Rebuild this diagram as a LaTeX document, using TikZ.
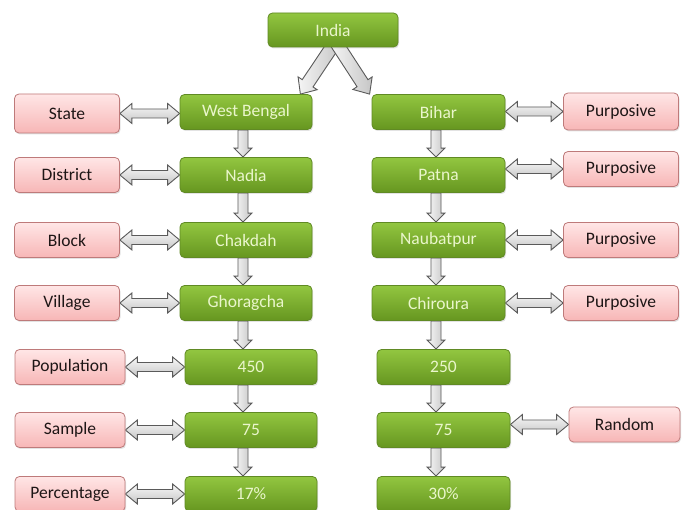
\documentclass[tikz,border=0pt]{standalone}
\usepackage{fontspec}
\setmainfont{Carlito}
\usetikzlibrary{calc,shadows,backgrounds}
\definecolor{gtop}{RGB}{146,198,64}
\definecolor{gbot}{RGB}{102,150,32}
\definecolor{gline}{RGB}{96,138,36}
\definecolor{gtext}{RGB}{234,246,204}
\definecolor{ptop}{RGB}{255,230,230}
\definecolor{pbot}{RGB}{247,182,182}
\definecolor{pline}{RGB}{190,122,122}
\definecolor{ptext}{RGB}{30,22,22}
\definecolor{aline}{RGB}{90,90,90}
\tikzset{
 boxbase/.style={line width=0.8pt, rounded corners=4.5pt, inner sep=0pt,
   font=\fontsize{17.5}{19}\selectfont,
   drop shadow={opacity=0.22, shadow xshift=1pt, shadow yshift=-1.5pt}},
 gbox/.style={boxbase, draw=gline, top color=gtop, bottom color=gbot, text=gtext,
   minimum width=132pt, minimum height=35pt},
 pbox/.style={boxbase, draw=pline, top color=ptop, bottom color=pbot, text=ptext,
   minimum width=105pt, minimum height=35pt},
 varrow/.style={draw=aline, line width=0.9pt, left color=gray!5, right color=gray!45, line join=miter},
 harrow/.style={draw=aline, line width=0.9pt, top color=gray!5, bottom color=gray!45, line join=miter},
 darrow/.style={draw=aline, line width=0.9pt, left color=gray!8, right color=gray!45, line join=miter},
}
% single block arrow: style, start, end, half shaft, half head, head length
\newcommand\fatone[6]{%
  \path (#2) coordinate (faA) (#3) coordinate (faB);
  \path ($(faB)!#6!(faA)$) coordinate (faH);
  \draw[#1] ($(faA)!#4!90:(faB)$) -- ($(faH)!#4!90:(faB)$) -- ($(faH)!#5!90:(faB)$)
    -- (faB) -- ($(faH)!#5!-90:(faB)$) -- ($(faH)!#4!-90:(faB)$)
    -- ($(faA)!#4!-90:(faB)$) -- cycle;}
% double block arrow
\newcommand\fattwo[6]{%
  \path (#2) coordinate (faA) (#3) coordinate (faB);
  \path ($(faB)!#6!(faA)$) coordinate (faH) ($(faA)!#6!(faB)$) coordinate (faG);
  \draw[#1] (faA) -- ($(faG)!#5!90:(faB)$) -- ($(faG)!#4!90:(faB)$)
    -- ($(faH)!#4!90:(faB)$) -- ($(faH)!#5!90:(faB)$) -- (faB)
    -- ($(faH)!#5!-90:(faB)$) -- ($(faH)!#4!-90:(faB)$)
    -- ($(faG)!#4!-90:(faB)$) -- ($(faG)!#5!-90:(faB)$) -- cycle;}
\newcommand\vdown[2]{\fatone{varrow}{#1}{#2}{5pt}{9pt}{9pt}}
\newcommand\hboth[2]{\fattwo{harrow}{#1}{#2}{4.5pt}{10pt}{12pt}}
\begin{document}
\begin{tikzpicture}[x=1pt,y=-1pt]
\useasboundingbox (0,0) rectangle (683,510);
% green column left
\node[gbox] (india) at (333,30) [minimum width=130pt, minimum height=34pt] {India};
\node[gbox] (wb) at (246,112) {West Bengal};
\node[gbox] (nadia) at (246,175) {Nadia};
\node[gbox] (chakdah) at (246,240) {Chakdah};
\node[gbox] (ghor) at (246,303) {Ghoragcha};
\node[gbox] (lpop) at (251,367) {450};
\node[gbox] (lsam) at (251,430) {75};
\node[gbox] (lper) at (251,494) {17\%};
% green column right
\node[gbox] (bihar) at (438.5,112) [minimum width=133pt] {Bihar};
\node[gbox] (patna) at (438.5,175) [minimum width=133pt] {Patna};
\node[gbox] (naub) at (438.5,240) [minimum width=133pt] {Naubatpur};
\node[gbox] (chir) at (438.5,303) [minimum width=133pt] {Chiroura};
\node[gbox] (rpop) at (443.5,367) [minimum width=133pt] {250};
\node[gbox] (rsam) at (443.5,430) [minimum width=133pt] {75};
\node[gbox] (rper) at (443.5,494) [minimum width=133pt] {30\%};
% pink left
\node[pbox] (state) at (67,113.5) [minimum height=39pt] {State};
\node[pbox] (district) at (67,175) {District};
\node[pbox] (block) at (67,240) {Block};
\node[pbox] (village) at (67,303) {Village};
\node[pbox] (population) at (70,367) [minimum width=110pt] {Population};
\node[pbox] (sample) at (70,430) [minimum width=110pt] {Sample};
\node[pbox] (percentage) at (70,494) [minimum width=110pt] {Percentage};
% pink right
\node[pbox] (p1) at (621,111.5) [minimum width=115pt, minimum height=37pt] {Purposive};
\node[pbox] (p2) at (621,169) [minimum width=115pt] {Purposive};
\node[pbox] (p3) at (621,240) [minimum width=115pt] {Purposive};
\node[pbox] (p4) at (621,303) [minimum width=115pt] {Purposive};
\node[pbox] (random) at (624.5,424.5) [minimum width=111pt] {Random};
\coordinate (lx) at (243,0);
\coordinate (rx) at (436,0);
\begin{scope}[on background layer]
\fill[white] (0,0) rectangle (683,510);
% from India
\fatone{darrow}{[xshift=2pt,yshift=5pt]india.south}{[xshift=-12pt]wb.north east}{6.5pt}{11.5pt}{13pt}
\fatone{darrow}{[xshift=3pt,yshift=5pt]india.south}{[xshift=-2pt]bihar.north west}{6.5pt}{11.5pt}{13pt}
% vertical left
\vdown{wb.south -| lx}{nadia.north -| lx}
\vdown{nadia.south -| lx}{chakdah.north -| lx}
\vdown{chakdah.south -| lx}{ghor.north -| lx}
\vdown{ghor.south -| lx}{lpop.north -| lx}
\vdown{lpop.south -| lx}{lsam.north -| lx}
\vdown{lsam.south -| lx}{lper.north -| lx}
% vertical right
\vdown{bihar.south -| rx}{patna.north -| rx}
\vdown{patna.south -| rx}{naub.north -| rx}
\vdown{naub.south -| rx}{chir.north -| rx}
\vdown{chir.south -| rx}{rpop.north -| rx}
\vdown{rpop.south -| rx}{rsam.north -| rx}
\vdown{rsam.south -| rx}{rper.north -| rx}
% horizontal left
\hboth{state.east}{state.east -| wb.west}
\hboth{district.east}{district.east -| nadia.west}
\hboth{block.east}{block.east -| chakdah.west}
\hboth{village.east}{village.east -| ghor.west}
\hboth{population.east}{population.east -| lpop.west}
\hboth{sample.east}{sample.east -| lsam.west}
\hboth{percentage.east}{percentage.east -| lper.west}
% horizontal right
\hboth{bihar.east |- p1.west}{p1.west}
\hboth{patna.east |- p2.west}{p2.west}
\hboth{naub.east |- p3.west}{p3.west}
\hboth{chir.east |- p4.west}{p4.west}
\hboth{rsam.east |- random.west}{random.west}
\end{scope}
\end{tikzpicture}
\end{document}
